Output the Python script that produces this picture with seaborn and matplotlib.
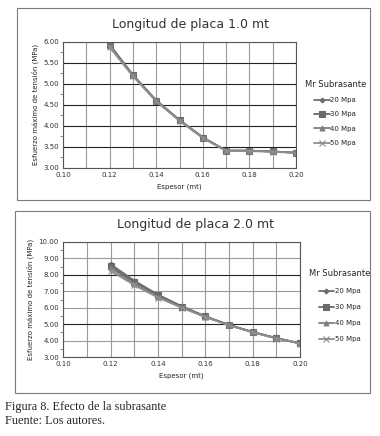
import numpy as np
import pandas as pd
import seaborn as sns
import matplotlib.pyplot as plt
from matplotlib.patches import Rectangle

# Espesor (mt)
espesor = [0.12, 0.13, 0.14, 0.15, 0.16, 0.17, 0.18, 0.19, 0.20]
series = ['20 Mpa', '30 Mpa', '40 Mpa', '50 Mpa']

# Longitud de placa 1.0 mt
placa1_20 = [5.93, 5.21, 4.61, 4.14, 3.73, 3.41, 3.41, 3.39, 3.36]
placa1_30 = [5.93, 5.21, 4.60, 4.13, 3.72, 3.41, 3.41, 3.39, 3.36]
placa1_40 = [5.91, 5.20, 4.60, 4.13, 3.72, 3.41, 3.41, 3.39, 3.36]
placa1_50 = [5.87, 5.18, 4.58, 4.12, 3.71, 3.40, 3.40, 3.38, 3.36]

# Longitud de placa 2.0 mt
placa2_20 = [8.65, 7.65, 6.80, 6.10, 5.48, 4.96, 4.53, 4.16, 3.84]
placa2_30 = [8.52, 7.56, 6.75, 6.07, 5.47, 4.95, 4.52, 4.15, 3.83]
placa2_40 = [8.40, 7.46, 6.68, 6.03, 5.45, 4.94, 4.51, 4.14, 3.83]
placa2_50 = [8.25, 7.38, 6.62, 6.00, 5.43, 4.93, 4.50, 4.13, 3.82]


def to_long(vals):
    rows = []
    for name, v in zip(series, vals):
        for x, y in zip(espesor, v):
            rows.append({'Espesor': x, 'Esfuerzo': y, 'Mr': name})
    return pd.DataFrame(rows)


df1 = to_long([placa1_20, placa1_30, placa1_40, placa1_50])
df2 = to_long([placa2_20, placa2_30, placa2_40, placa2_50])

sns.set_style('white')
plt.rcParams['font.family'] = ['DejaVu Sans']

colors = {'20 Mpa': '#6e6e6e', '30 Mpa': '#6a6a6a', '40 Mpa': '#7e7e7e', '50 Mpa': '#8e8e8e'}
markers = {'20 Mpa': 'D', '30 Mpa': 's', '40 Mpa': '^', '50 Mpa': 'x'}
msizes = {'20 Mpa': 2.5, '30 Mpa': 4, '40 Mpa': 3.5, '50 Mpa': 4}

fig = plt.figure(figsize=(3.8, 4.36), dpi=100)

# panel frames
fig.add_artist(Rectangle((0.045, 0.541), 0.929, 0.441, transform=fig.transFigure,
                         fill=False, edgecolor='#7a7a7a', linewidth=0.8))
fig.add_artist(Rectangle((0.040, 0.099), 0.934, 0.417, transform=fig.transFigure,
                         fill=False, edgecolor='#7a7a7a', linewidth=0.8))

ax1 = fig.add_axes([0.166, 0.615, 0.613, 0.289])
ax2 = fig.add_axes([0.166, 0.181, 0.624, 0.264])


def draw(ax, df, ylim, ystep, dark, leg_y, spacing):
    for name in series:
        sub = df[df['Mr'] == name]
        sns.lineplot(data=sub, x='Espesor', y='Esfuerzo', ax=ax, label=name,
                     color=colors[name], marker=markers[name],
                     markersize=msizes[name], markeredgewidth=0.8,
                     markeredgecolor=colors[name], linewidth=1.3)
    ax.set_xlim(0.10, 0.20)
    ax.set_ylim(*ylim)
    xt = np.arange(0.10, 0.2001, 0.02)
    ax.set_xticks(xt)
    yt = np.arange(ylim[0], ylim[1] + 1e-9, ystep)
    ax.set_yticks(yt)
    ax.set_yticks(np.arange(ylim[0], ylim[1] + 1e-9, ystep / 2), minor=True)
    ax.set_xticklabels([f'{v:.2f}' for v in xt])
    ax.set_yticklabels([f'{v:.2f}' for v in yt])
    ax.tick_params(axis='both', which='major', labelsize=5, length=0, pad=3, colors='#333333')
    ax.tick_params(axis='y', which='minor', length=2, width=0.5, left=True, color='#555555')
    for xv in np.arange(0.10, 0.2001, 0.01):
        ax.axvline(xv, color='#9a9a9a', linewidth=0.8, zorder=0)
    for yv in yt:
        c = '#222222' if round(yv, 2) in dark else '#9a9a9a'
        ax.axhline(yv, color=c, linewidth=0.8, zorder=0)
    for s in ax.spines.values():
        s.set_color('#555555')
        s.set_linewidth(0.8)
    ax.set_xlabel('Espesor (mt)', fontsize=5, labelpad=4)
    ax.set_ylabel('Esfuerzo máximo de tensión (MPa)', fontsize=5, labelpad=3)
    h, l = ax.get_legend_handles_labels()
    ax.legend(h, l, title='Mr Subrasante', loc='upper left',
              bbox_to_anchor=(1.01, leg_y), frameon=False, fontsize=5,
              title_fontsize=6, handlelength=2.2, labelspacing=spacing,
              handletextpad=0.1)


draw(ax1, df1, (3.0, 6.0), 0.5, {5.5, 5.0, 4.5, 4.0, 3.5}, 0.75, 1.2)
draw(ax2, df2, (3.0, 10.0), 1.0, {8.0, 5.0}, 0.82, 1.45)

fig.text(0.50, 0.943, 'Longitud de placa 1.0 mt', ha='center', va='center',
         fontsize=9, color='#333333')
fig.text(0.515, 0.486, 'Longitud de placa 2.0 mt', ha='center', va='center',
         fontsize=9, color='#333333')

fig.text(0.013, 0.067, 'Figura 8. Efecto de la subrasante', fontsize=8.8,
         family='Liberation Serif', va='center')
fig.text(0.013, 0.035, 'Fuente: Los autores.', fontsize=8.8,
         family='Liberation Serif', va='center')

fig.savefig('out.png', dpi=100)
